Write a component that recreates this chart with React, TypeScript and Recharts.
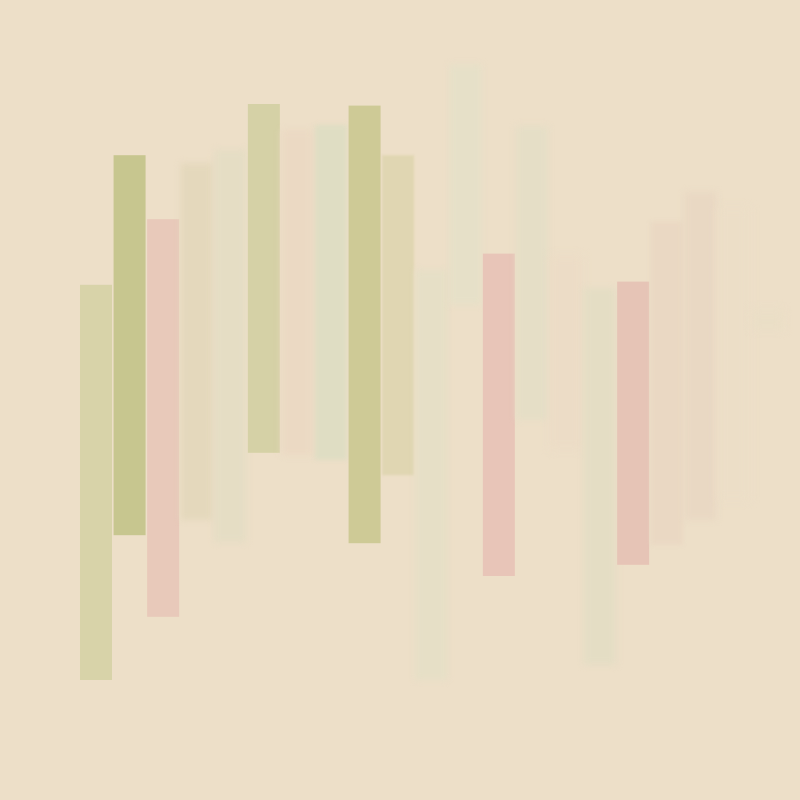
import React from "react";
import { BarChart, Bar, XAxis, YAxis } from "recharts";

// one floating bar per column, values on a 0–100 scale
const categories = [
  "c1", "c2", "c3", "c4", "c5", "c6", "c7", "c8", "c9", "c10", "c11",
  "c12", "c13", "c14", "c15", "c16", "c17", "c18", "c19", "c20", "c21",
];
const lows = [15, 33.1, 22.9, 35, 32.2, 43.4, 43.1, 42.5, 32.1, 40.6, 15, 61.9, 28, 47.5, 43.8, 16.9, 29.4, 31.9, 35, 37.5, 58.8];
const highs = [64.4, 80.6, 72.6, 79.6, 81.3, 87, 83.8, 84.4, 86.8, 80.6, 66.3, 91.9, 68.3, 84.2, 68, 64, 64.8, 72.3, 76, 74, 61.3];

const COLORS = [
  "#D8D3A9", "#C7C68F", "#E8C9BA", "#E4D8BC", "#E5DDC4", "#D5D1A6", "#EBD9C3",
  "#DFDDC3", "#CECA96", "#E0D6B2", "#E6DFC6", "#E6E0C8", "#E8C5B8", "#E5DEC6",
  "#ECDCC6", "#E4DDC4", "#E6C4B6", "#EAD8C3", "#E9D8C3", "#ECDEC7", "#EADEC6",
];
// soft edges on the faded columns
const BLUR = [0, 0, 0, 3, 3, 0, 3, 2, 0, 1, 3, 3, 0, 3, 4, 3, 0, 2, 3, 4, 4];

const data = categories.map((name, i) => ({ name, range: [lows[i], highs[i]] }));

export default function App() {
  return (
    <div style={{ position: "absolute", top: 0, left: 0, width: 800, height: 800, background: "#EDDFC8" }}>
      <BarChart width={800} height={800} data={data} margin={{ top: 0, right: 16, bottom: 0, left: 79 }}>
        <XAxis dataKey="name" hide />
        <YAxis type="number" domain={[0, 100]} hide />
        <Bar
          dataKey="range"
          barSize={32}
          isAnimationActive={false}
          // eslint-disable-next-line @typescript-eslint/no-explicit-any
          shape={(props: any) => {
            const i = props.index as number;
            return (
              <rect
                x={props.x}
                y={props.y}
                width={props.width}
                height={props.height}
                fill={COLORS[i]}
                style={BLUR[i] ? { filter: `blur(${BLUR[i]}px)` } : undefined}
              />
            );
          }}
        />
      </BarChart>
    </div>
  );
}
